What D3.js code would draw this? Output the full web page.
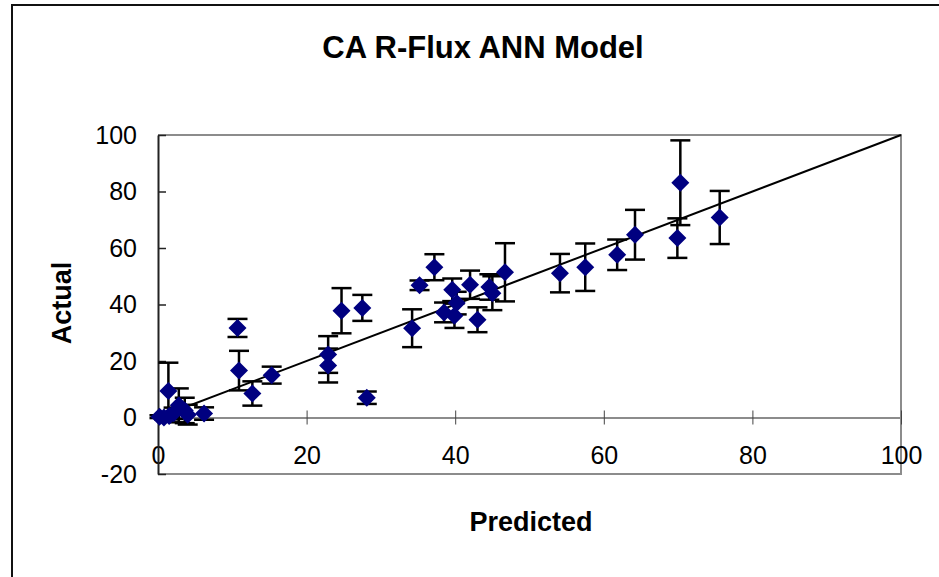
<!DOCTYPE html>
<html>
<head>
<meta charset="utf-8">
<script src="https://cdn.jsdelivr.net/npm/d3@7"></script>
<style>
  body { margin: 0; background: #fff; }
  text { font-family: "Liberation Sans", Arial, sans-serif; }
</style>
</head>
<body>
<div id="chart"></div>
<script>
// predicted vs actual, with error bar half-widths
const predicted = [0.2, 0.8, 1.5, 1.4, 2.1, 2.8, 3.6, 4.0, 6.2, 10.7, 10.9, 12.7, 15.3, 22.9, 22.9, 24.7, 27.5, 28.1,
  34.2, 35.2, 37.2, 38.5, 39.6, 40.2, 39.9, 42.0, 43.0, 44.6, 45.0, 46.7, 54.1, 57.5, 61.8, 64.2, 70.3, 69.9, 75.6];
const actual = [0.3, 0, 0.5, 9.4, 1.5, 4.3, 2.5, 1.0, 1.4, 31.7, 16.6, 8.5, 15.0, 22.3, 18.4, 37.8, 38.8, 7.0,
  31.6, 46.8, 53.2, 37.2, 45.2, 40.5, 36.0, 47.0, 34.6, 46.2, 44.0, 51.4, 51.1, 53.2, 57.6, 64.7, 83.1, 63.5, 70.8];
const errors = [0.5, 0.6, 1, 10, 2, 6, 4.5, 3.5, 2.2, 3.2, 7, 4.3, 3, 6.5, 6, 8, 4.6, 2.2,
  6.7, 1.7, 4.6, 3.5, 4, 4, 4.3, 5, 4.4, 4.5, 6, 10.3, 6.8, 8.4, 5.4, 8.8, 15, 7, 9.4];
const xTicks = [0, 20, 40, 60, 80, 100];
const yTicks = [-20, 0, 20, 40, 60, 80, 100];

const width = 939, height = 577;
const plot = { left: 158, right: 901, top: 135, bottom: 474 };

const data = predicted.map((p, i) => ({ p: p, a: actual[i], e: errors[i] }));

const svg = d3.select("#chart").append("svg")
  .attr("width", width)
  .attr("height", height);

// outer chart frame
svg.append("path")
  .attr("d", `M12,${height + 5}V5H${width + 5}`)
  .attr("fill", "none")
  .attr("stroke", "#111")
  .attr("stroke-width", 2);

const x = d3.scaleLinear().domain([0, 100]).range([plot.left, plot.right]);
const y = d3.scaleLinear().domain([-20, 100]).range([plot.bottom, plot.top]);

// plot area border (top, right, bottom)
svg.append("path")
  .attr("d", `M${plot.left},${plot.top}H${plot.right}V${plot.bottom}H${plot.left}`)
  .attr("fill", "none")
  .attr("stroke", "#8c8c8c")
  .attr("stroke-width", 2);

// x axis sits at y = 0
const xAxis = svg.append("g")
  .attr("transform", `translate(0,${y(0)})`)
  .call(d3.axisBottom(x).tickValues(xTicks).tickFormat(d => String(d))
    .tickSizeInner(7).tickSizeOuter(0).tickPadding(22));
xAxis.select(".domain").attr("stroke", "#8c8c8c").attr("stroke-width", 2);
xAxis.selectAll(".tick line").attr("y1", -7).attr("stroke", "#444").attr("stroke-width", 1);
xAxis.selectAll(".tick text")
  .attr("font-size", 25).attr("fill", "#000")
  .style("font-family", "'Liberation Sans', Arial, sans-serif");

const yAxis = svg.append("g")
  .attr("transform", `translate(${plot.left},0)`)
  .call(d3.axisLeft(y).tickValues(yTicks).tickFormat(d => String(d))
    .tickSizeInner(7).tickSizeOuter(0).tickPadding(14));
yAxis.select(".domain").attr("stroke", "#222").attr("stroke-width", 2);
yAxis.selectAll(".tick line").attr("x2", 8).attr("stroke", "#222").attr("stroke-width", 1.5);
yAxis.selectAll(".tick text")
  .attr("font-size", 25).attr("fill", "#000")
  .style("font-family", "'Liberation Sans', Arial, sans-serif");

// 1:1 line
svg.append("line")
  .attr("x1", x(0)).attr("y1", y(0))
  .attr("x2", x(100)).attr("y2", y(100))
  .attr("stroke", "#000")
  .attr("stroke-width", 2);

// error bars
const bars = svg.append("g").attr("stroke", "#000").attr("stroke-width", 2.5);
data.forEach(d => {
  const cx = x(d.p), top = y(d.a + d.e), bot = y(d.a - d.e);
  bars.append("line").attr("x1", cx).attr("x2", cx).attr("y1", top).attr("y2", bot);
  bars.append("line").attr("x1", cx - 10).attr("x2", cx + 10).attr("y1", top).attr("y2", top);
  bars.append("line").attr("x1", cx - 10).attr("x2", cx + 10).attr("y1", bot).attr("y2", bot);
});

// diamond markers
const r = 9;
svg.append("g").selectAll("path")
  .data(data)
  .enter()
  .append("path")
  .attr("d", d => `M${x(d.p)},${y(d.a) - r}L${x(d.p) + r},${y(d.a)}L${x(d.p)},${y(d.a) + r}L${x(d.p) - r},${y(d.a)}Z`)
  .attr("fill", "#000080");

// titles
svg.append("text")
  .attr("x", 483).attr("y", 58)
  .attr("text-anchor", "middle")
  .attr("font-size", 31).attr("font-weight", "bold")
  .text("CA R-Flux  ANN Model");

svg.append("text")
  .attr("x", 531).attr("y", 531)
  .attr("text-anchor", "middle")
  .attr("font-size", 27).attr("font-weight", "bold")
  .text("Predicted");

svg.append("text")
  .attr("transform", "translate(71,303) rotate(-90)")
  .attr("text-anchor", "middle")
  .attr("font-size", 27).attr("font-weight", "bold")
  .text("Actual");
</script>
</body>
</html>
